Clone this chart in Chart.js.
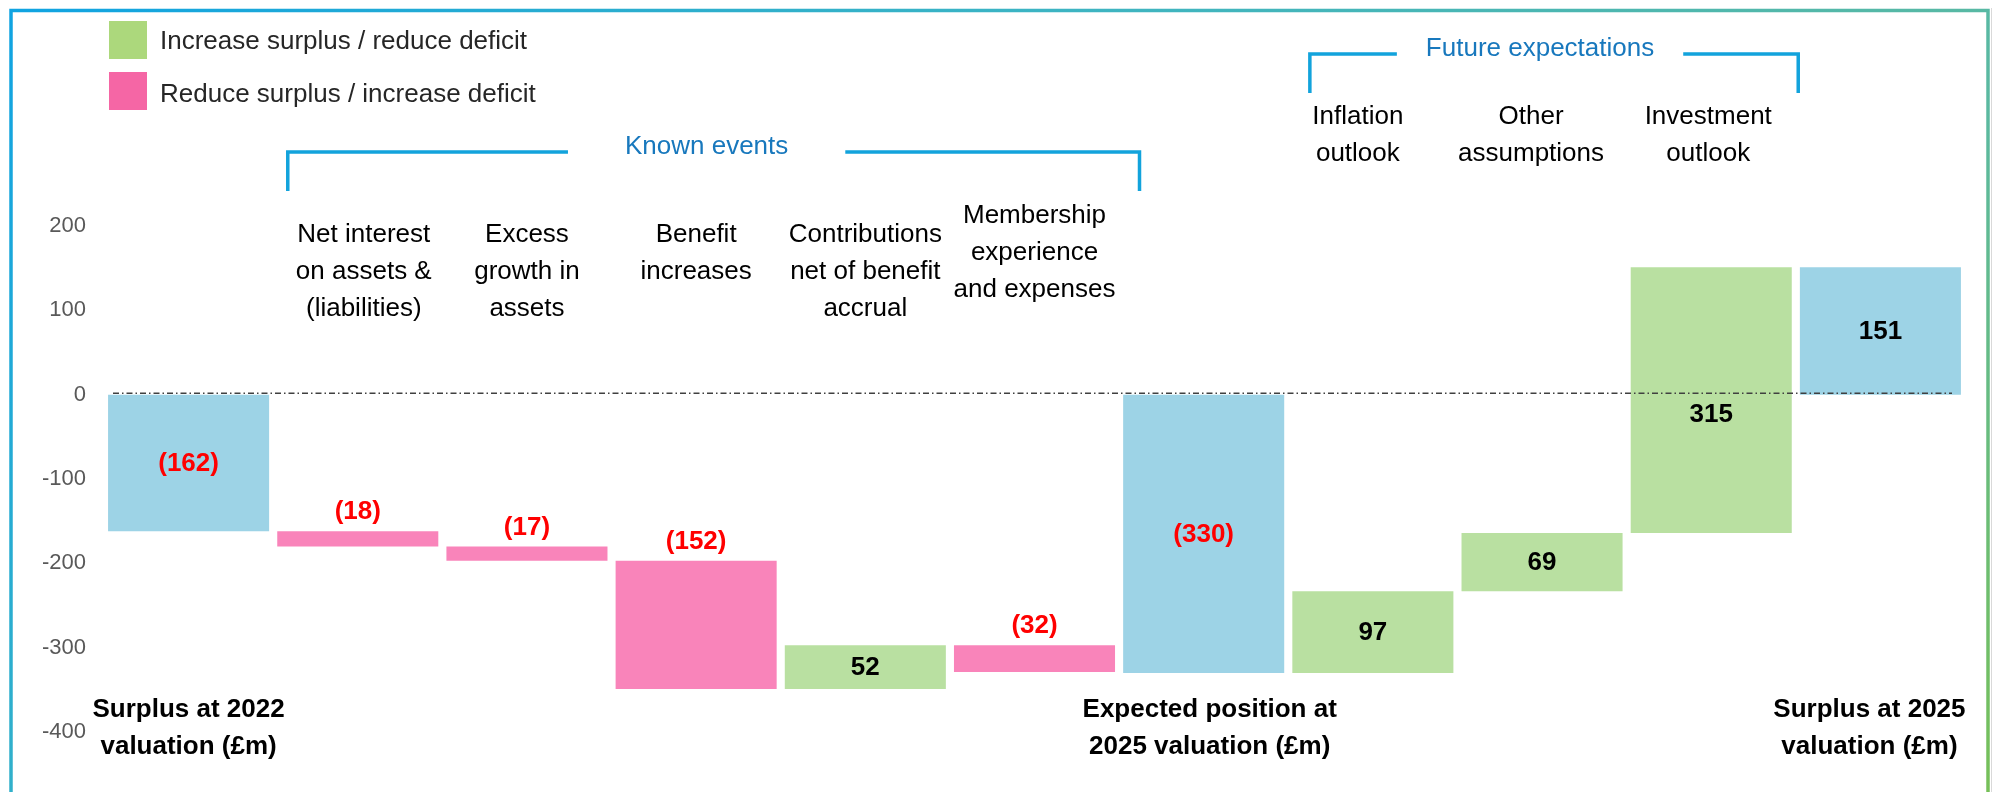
<!DOCTYPE html>
<html>
<head>
<meta charset="utf-8">
<script src="https://cdn.jsdelivr.net/npm/chart.js@4.4.1/dist/chart.umd.min.js"></script>
<style>
  html, body { margin: 0; padding: 0; background: #fff; }
  #wrap { width: 1993px; height: 792px; }
</style>
</head>
<body>
<div id="wrap"><canvas id="chart" width="1993" height="792"></canvas></div>
<script>
// Funding-position waterfall: 2022 valuation -> expected 2025 -> actual 2025.

// ── Data ──────────────────────────────────────────────────────────────────
const STEP_LABELS = [
  ['Surplus at 2022', 'valuation (£m)'],
  ['Net interest', 'on assets &', '(liabilities)'],
  ['Excess', 'growth in', 'assets'],
  ['Benefit', 'increases'],
  ['Contributions', 'net of benefit', 'accrual'],
  ['Membership', 'experience', 'and expenses'],
  ['Expected position at', '2025 valuation (£m)'],
  ['Inflation', 'outlook'],
  ['Other', 'assumptions'],
  ['Investment', 'outlook'],
  ['Surplus at 2025', 'valuation (£m)']
];
const STEP_VALUES = [-162, -18, -17, -152, 52, -32, -330, 97, 69, 315, 151];
const STEP_KINDS  = ['total', 'step', 'step', 'step', 'step', 'step', 'total', 'step', 'step', 'step', 'total'];

const GROUPS = [
  { name: 'Known events',        from: 1, to: 5 },
  { name: 'Future expectations', from: 7, to: 9 }
];

const LEGEND_ITEMS = ['Increase surplus / reduce deficit', 'Reduce surplus / increase deficit'];

const Y_MIN = -400, Y_MAX = 200, Y_STEP = 100;

// ── Styling ───────────────────────────────────────────────────────────────
const FONT = '"Liberation Sans", Arial, Helvetica, sans-serif';
const COLORS = {
  total: '#9dd3e6',
  up:    '#b9e0a1',
  down:  '#f984ba',
  legendUp:   '#acd87c',
  legendDown: '#f566a5',
  bracket: '#12a3dc',
  groupText: '#1878bd',
  tick: '#595959'
};

// Floating ranges for the waterfall: totals start at 0, steps at the running level
let level = 0;
const ranges = STEP_VALUES.map((v, i) => {
  if (STEP_KINDS[i] === 'total') { level = v; return [0, v]; }
  const start = level;
  level += v;
  return [start, level];
});

const barColors = STEP_VALUES.map((v, i) =>
  STEP_KINDS[i] === 'total' ? COLORS.total : (v >= 0 ? COLORS.up : COLORS.down));

// small per-label nudges so the wrapped captions sit where the original has them
const LABEL_NUDGE = {
  1: { dx: 6 }, 5: { dy: -19 }, 6: { dx: 6 }, 7: { dx: -15 }, 8: { dx: -11 }, 9: { dx: -3 }, 10: { dx: -11 }
};

const fmt = v => v < 0 ? `(${-v})` : `${v}`;

// ── Overlay plugin: zero line, value labels, captions, brackets, legend, frame ──
const overlay = {
  id: 'overlay',
  afterDatasetsDraw(chart) {
    const { ctx, chartArea: area } = chart;
    const x = chart.scales.x, y = chart.scales.y;
    const meta = chart.getDatasetMeta(0);

    ctx.save();

    // zero reference line (dash-dot)
    const y0 = y.getPixelForValue(0) - 1.5;
    ctx.strokeStyle = '#404040';
    ctx.lineWidth = 1.5;
    ctx.setLineDash([6, 3, 1.5, 3]);
    ctx.beginPath();
    ctx.moveTo(area.left + 9, y0);
    ctx.lineTo(area.right - 13, y0);
    ctx.stroke();
    ctx.setLineDash([]);

    // value labels
    ctx.font = `bold 26px ${FONT}`;
    ctx.textAlign = 'center';
    ctx.textBaseline = 'middle';
    STEP_VALUES.forEach((v, i) => {
      const bar = meta.data[i];
      const [a, b] = ranges[i];
      let ly;
      if (STEP_KINDS[i] === 'step' && v < 0) {
        ly = y.getPixelForValue(Math.max(a, b)) - 20;
      } else {
        ly = y.getPixelForValue((a + b) / 2);
        if (a < 0 && b > 0 && STEP_KINDS[i] === 'step') ly += 14; // keep clear of the zero line
      }
      ctx.fillStyle = v < 0 ? '#ff0000' : '#000000';
      ctx.fillText(fmt(v), bar.x, ly + 1);
    });

    // category captions
    STEP_LABELS.forEach((lines, i) => {
      const n = LABEL_NUDGE[i] || {};
      const cx = x.getPixelForValue(i) + (n.dx || 0);
      let top, lh = 37;
      if (STEP_KINDS[i] === 'total') {
        ctx.font = `bold 26px ${FONT}`;
        top = 710;
      } else {
        ctx.font = `26px ${FONT}`;
        top = i >= GROUPS[1].from ? 117 : 235;
      }
      top += (n.dy || 0);
      ctx.fillStyle = '#000000';
      lines.forEach((t, k) => ctx.fillText(t, cx, top + k * lh));
    });

    // group brackets
    const bracketSpec = [
      { lineY: 152, bottom: 191, padL: 70, padR: 105, gap: 57, dx: -7 },
      { lineY: 54,  bottom: 93,  padL: 63, padR: 87,  gap: 29, dx: -14 }
    ];
    ctx.font = `26px ${FONT}`;
    ctx.textBaseline = 'alphabetic';
    GROUPS.forEach((g, k) => {
      const s = bracketSpec[k];
      const left = x.getPixelForValue(g.from) - s.padL;
      const right = x.getPixelForValue(g.to) + s.padR;
      const mid = (left + right) / 2 + s.dx;
      const tw = ctx.measureText(g.name).width;
      ctx.strokeStyle = COLORS.bracket;
      ctx.lineWidth = 3.5;
      ctx.lineCap = 'butt';
      ctx.beginPath();
      ctx.moveTo(left, s.bottom);
      ctx.lineTo(left, s.lineY);
      ctx.lineTo(mid - tw / 2 - s.gap, s.lineY);
      ctx.moveTo(mid + tw / 2 + s.gap, s.lineY);
      ctx.lineTo(right, s.lineY);
      ctx.lineTo(right, s.bottom);
      ctx.stroke();
      ctx.fillStyle = COLORS.groupText;
      ctx.fillText(g.name, mid, s.lineY + 2);
    });

    // legend
    ctx.textAlign = 'left';
    ctx.textBaseline = 'middle';
    ctx.font = `26px ${FONT}`;
    [COLORS.legendUp, COLORS.legendDown].forEach((c, k) => {
      const top = 21 + k * 51;
      ctx.fillStyle = c;
      ctx.fillRect(109, top, 38, 38);
      ctx.fillStyle = '#262626';
      ctx.fillText(LEGEND_ITEMS[k], 160, top + 21 + k * 2);
    });

    // gradient frame
    const grad = ctx.createLinearGradient(0, 0, 1500, 1500);
    grad.addColorStop(0, '#0fa3e2');
    grad.addColorStop(0.35, '#3cb4c3');
    grad.addColorStop(0.7, '#5bb9a0');
    grad.addColorStop(1, '#7fc241');
    ctx.strokeStyle = grad;
    ctx.lineWidth = 3.5;
    ctx.strokeRect(11, 10.5, 1977, 900);
    ctx.strokeStyle = '#d9d9d9';
    ctx.lineWidth = 1;
    ctx.beginPath();
    ctx.moveTo(1991.5, 8);
    ctx.lineTo(1991.5, 792);
    ctx.stroke();

    ctx.restore();
  }
};

new Chart(document.getElementById('chart').getContext('2d'), {
  type: 'bar',
  data: {
    labels: STEP_LABELS.map(l => l.join(' ')),
    datasets: [{
      data: ranges,
      backgroundColor: barColors,
      borderWidth: 0,
      barPercentage: 0.952,
      categoryPercentage: 1.0
    }]
  },
  options: {
    responsive: false,
    devicePixelRatio: 1,
    animation: false,
    layout: { padding: { top: 226, bottom: 60, left: 0, right: 28 } },
    plugins: {
      legend: { display: false },
      tooltip: { enabled: false }
    },
    scales: {
      x: { display: false },
      y: {
        min: Y_MIN,
        max: Y_MAX,
        afterFit: s => { s.width = 104; },
        border: { display: false },
        grid: { display: false, drawTicks: false },
        ticks: {
          stepSize: Y_STEP,
          padding: 18,
          color: COLORS.tick,
          font: { family: FONT, size: 22 }
        }
      }
    }
  },
  plugins: [overlay]
});
</script>
</body>
</html>
